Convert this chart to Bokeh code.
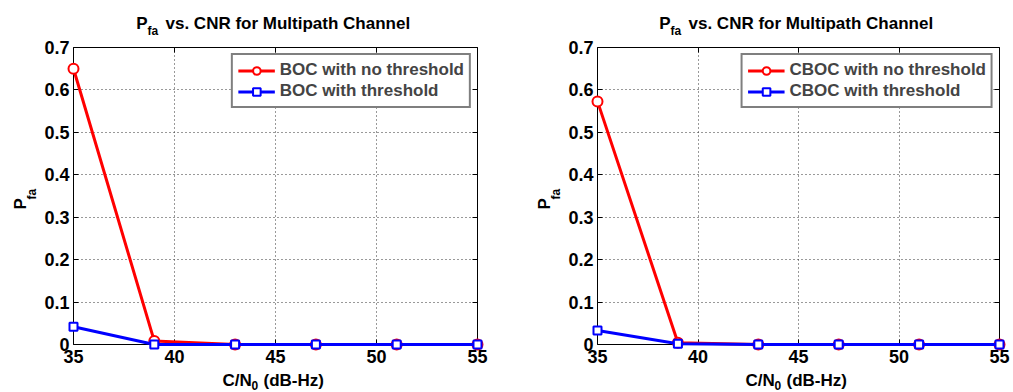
import math
from bokeh.plotting import figure
from bokeh.layouts import row, column
from bokeh.models import (Label, LinearAxis, Range1d, CustomJSTickFormatter,
                          Legend, LegendItem)
from bokeh.embed import file_html
from bokeh.resources import INLINE

# C/N0 values (dB-Hz) and false-alarm probabilities
cnr = [35, 39, 43, 47, 51, 55]
boc_no_thr = [0.65, 0.008, 0.0, 0.0, 0.0, 0.0]
boc_thr = [0.042, 0.0, 0.0, 0.0, 0.0, 0.0]
cboc_no_thr = [0.573, 0.004, 0.0, 0.0, 0.0, 0.0]
cboc_thr = [0.033, 0.002, 0.0, 0.0, 0.0, 0.0]

x_ticks = [35, 40, 45, 50, 55]
y_ticks = [0, 0.1, 0.2, 0.3, 0.4, 0.5, 0.6, 0.7]

FONT = "Liberation Sans"
FS = "17px"
TICK_FS = "18px"
SUB = "12px"

TITLE_H = 36      # strip above the axes holding the title
XLAB_H = 22       # strip below the axes holding the x label
TOTAL_H = 392
MAIN_H = TOTAL_H - TITLE_H - XLAB_H
FRAME_TOP = 11    # main figure border above the frame
FRAME_BOTTOM = 26  # main figure border below the frame (tick labels)


def txt(p, x, y, s, size=FS, align="left", angle=0.0):
    p.add_layout(Label(x=x, y=y, x_units="screen", y_units="screen", text=s,
                       text_font=FONT, text_font_style="bold",
                       text_font_size=size, text_color="black",
                       text_align=align, text_baseline="alphabetic",
                       angle=angle))


def blank(width, height):
    f = figure(width=width, height=height, x_range=Range1d(0, 1),
               y_range=Range1d(0, 1), output_backend="svg",
               toolbar_location=None, x_axis_location=None,
               y_axis_location=None, min_border=0)
    f.outline_line_color = None
    f.grid.visible = False
    return f


def panel(width, frame_left, frame_right_border, red, blue, names):
    ylab_w = frame_left - 33
    frame_w = width - frame_left - frame_right_border
    cx = frame_left + frame_w / 2

    p = figure(width=width - ylab_w, height=MAIN_H, x_range=Range1d(35, 55),
               y_range=Range1d(0, 0.7), output_backend="svg",
               toolbar_location=None, min_border_left=33,
               min_border_right=frame_right_border, min_border_top=FRAME_TOP,
               min_border_bottom=FRAME_BOTTOM)
    p.outline_line_color = "black"
    p.outline_line_width = 1

    top = LinearAxis()
    right = LinearAxis()
    p.add_layout(top, "above")
    p.add_layout(right, "right")

    for ax in p.xaxis:
        ax.ticker = x_ticks
    for ax in p.yaxis:
        ax.ticker = y_ticks
    for ax in list(p.xaxis) + list(p.yaxis):
        ax.axis_line_color = None
        ax.major_tick_in = 5
        ax.major_tick_out = 0
        ax.minor_tick_line_color = None
        ax.major_tick_line_color = "black"
        ax.major_label_text_font = FONT
        ax.major_label_text_font_style = "bold"
        ax.major_label_text_font_size = TICK_FS
        ax.major_label_text_color = "black"
    for ax in (top, right):
        ax.formatter = CustomJSTickFormatter(code="return '';")
        ax.major_label_text_font_size = "0px"
        ax.major_label_standoff = 0
    p.below[0].major_label_standoff = 5
    p.left[0].major_label_standoff = 4
    p.left[0].formatter = CustomJSTickFormatter(
        code="return tick == 0 ? '0' : tick.toFixed(1);")

    p.xgrid.grid_line_color = "#333333"
    p.ygrid.grid_line_color = "#333333"
    p.xgrid.grid_line_dash = "1 3"
    p.ygrid.grid_line_dash = "1 3"

    r_line = p.line(cnr, red, line_color="red", line_width=3, level="overlay")
    r_mark = p.scatter(cnr, red, marker="circle", size=10, line_color="red",
                       line_width=2, fill_color="white", level="overlay")
    b_line = p.line(cnr, blue, line_color="blue", line_width=3, level="overlay")
    b_mark = p.scatter(cnr, blue, marker="square", size=8, line_color="blue",
                       line_width=2, fill_color="white", level="overlay")

    legend = Legend(items=[LegendItem(label=names[0], renderers=[r_line, r_mark]),
                           LegendItem(label=names[1], renderers=[b_line, b_mark])],
                    location="top_right", margin=6, padding=5, spacing=1,
                    glyph_width=37, glyph_height=19, label_height=19,
                    label_standoff=5, label_text_font=FONT,
                    label_text_font_style="bold", label_text_font_size=FS,
                    border_line_color="black", border_line_width=2,
                    background_fill_color="white", background_fill_alpha=1)
    p.add_layout(legend, "center")

    # title: P_fa vs. CNR for Multipath Channel
    t = blank(width, TITLE_H)
    txt(t, cx - 128, 13, "P", align="right")
    txt(t, cx - 128, 6, "fa", size=SUB)
    txt(t, cx - 110, 13, "vs. CNR for Multipath Channel")

    # y label: P_fa (rotated)
    yl = blank(ylab_w, MAIN_H)
    txt(yl, frame_left - 53, 135, "P", angle=math.pi / 2)
    txt(yl, frame_left - 42, 145, "fa", size=SUB, angle=math.pi / 2)

    # x label: C/N_0 (dB-Hz)
    xl = blank(width, XLAB_H)
    txt(xl, cx - 53, 12, "C/N")
    txt(xl, cx - 24, 7, "0", size=SUB)
    txt(xl, cx - 12, 12, "(dB-Hz)")

    return column(t, row(yl, p, spacing=0), xl, spacing=0)


left = panel(500, 73, 23, boc_no_thr, boc_thr,
             ["BOC with no threshold", "BOC with threshold"])
right = panel(513, 97, 14, cboc_no_thr, cboc_thr,
              ["CBOC with no threshold", "CBOC with threshold"])

layout = row(left, right, spacing=0)
open("out.html", "w").write(file_html(layout, INLINE))
